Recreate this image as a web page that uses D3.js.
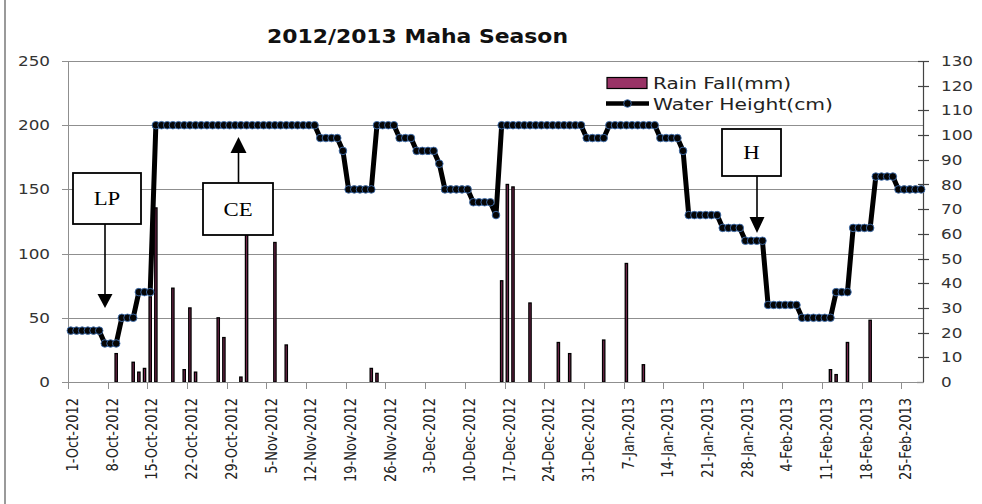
<!DOCTYPE html>
<html>
<head>
<meta charset="utf-8">
<script src="https://cdn.jsdelivr.net/npm/d3@7"></script>
<style>
  body { margin: 0; background: #fff; }
  svg { display: block; }
</style>
</head>
<body>
<svg width="982" height="504"></svg>
<script>
// water height (cm), one value per day, 1-Oct-2012 .. 28-Feb-2013
var waterOct = [40, 40, 40, 40, 40, 40, 30, 30, 30, 50, 50, 50, 70, 70, 70,
    200, 200, 200, 200, 200, 200, 200, 200, 200, 200, 200, 200, 200, 200, 200, 200];
var waterNov = [200, 200, 200, 200, 200, 200, 200, 200, 200, 200, 200, 200, 200,
    190, 190, 190, 190, 180, 150, 150, 150, 150, 150, 200, 200, 200, 200, 190, 190, 190];
var waterDec = [180, 180, 180, 180, 170, 150, 150, 150, 150, 150, 140, 140, 140, 140, 130,
    200, 200, 200, 200, 200, 200, 200, 200, 200, 200, 200, 200, 200, 200, 200, 190];
var waterJan = [190, 190, 190, 200, 200, 200, 200, 200, 200, 200, 200, 200,
    190, 190, 190, 190, 180, 130, 130, 130, 130, 130, 130, 120, 120, 120, 120, 110, 110, 110, 110];
var waterFeb = [60, 60, 60, 60, 60, 60, 50, 50, 50, 50, 50, 50, 70, 70, 70,
    120, 120, 120, 120, 160, 160, 160, 160, 150, 150, 150, 150, 150];

// daily rain fall (mm), only the days with rain
var rainDates = ["2012-10-09", "2012-10-12", "2012-10-13", "2012-10-14", "2012-10-15", "2012-10-16",
    "2012-10-19", "2012-10-21", "2012-10-22", "2012-10-23", "2012-10-27", "2012-10-28", "2012-10-31",
    "2012-11-01", "2012-11-06", "2012-11-08", "2012-11-23", "2012-11-24",
    "2012-12-16", "2012-12-17", "2012-12-18", "2012-12-21", "2012-12-26", "2012-12-28",
    "2013-01-03", "2013-01-07", "2013-01-10",
    "2013-02-12", "2013-02-13", "2013-02-15", "2013-02-19"];
var rainMm = [11.5, 8, 4, 5.5, 34.5, 70.5,
    38, 5, 30, 4, 26, 18, 2,
    62, 56.5, 15, 5.5, 3.5,
    41, 80, 79, 32, 16, 11.5,
    17, 48, 7,
    5, 3, 16, 25];

var xTickLabels = ["1-Oct-2012", "8-Oct-2012", "15-Oct-2012", "22-Oct-2012", "29-Oct-2012",
    "5-Nov-2012", "12-Nov-2012", "19-Nov-2012", "26-Nov-2012", "3-Dec-2012", "10-Dec-2012",
    "17-Dec-2012", "24-Dec-2012", "31-Dec-2012", "7-Jan-2013", "14-Jan-2013", "21-Jan-2013",
    "28-Jan-2013", "4-Feb-2013", "11-Feb-2013", "18-Feb-2013", "25-Feb-2013"];
var leftTicks = [0, 50, 100, 150, 200, 250];
var rightTicks = [0, 10, 20, 30, 40, 50, 60, 70, 80, 90, 100, 110, 120, 130];

var notes = [
    {label: "LP", dir: "down"},
    {label: "CE", dir: "up"},
    {label: "H", dir: "down"}
];

(function() {
    'use strict';

    var svg = d3.select("svg");
    var SX = 1.2;          // the original picture is stretched sideways
    var gridColor = "#8f8f8f";

    var parseTick = d3.utcParse("%d-%b-%Y");
    var parseDay = d3.utcParse("%Y-%m-%d");
    var start = Date.UTC(2012, 9, 1);
    var water = [].concat(waterOct, waterNov, waterDec, waterJan, waterFeb);
    var waterData = water.map(function(v, i) {
        return {date: d3.utcDay.offset(new Date(start), i), value: v};
    });
    var rainData = rainDates.map(function(d, i) {
        return {date: parseDay(d), value: rainMm[i]};
    });

    var x = d3.scaleUtc()
        .domain([new Date(start), new Date(Date.UTC(2013, 2, 1))])
        .range([68, 924]);
    var yL = d3.scaleLinear().domain([0, 250]).range([382, 61]);
    var yR = d3.scaleLinear().domain([0, 130]).range([382, 61]);
    var mid = function(d) { return x(d3.utcHour.offset(d, 12)); };

    // frame edge on the left
    svg.append("line")
        .attr("x1", 5).attr("x2", 5).attr("y1", 0).attr("y2", 504)
        .attr("stroke", "#9a9a9a").attr("stroke-width", 2);

    // title
    svg.append("text")
        .attr("x", 267).attr("y", 43)
        .attr("textLength", 301).attr("lengthAdjust", "spacingAndGlyphs")
        .attr("font-family", "DejaVu Sans").attr("font-weight", "bold")
        .attr("font-size", 19).attr("fill", "#111")
        .text("2012/2013 Maha Season");

    // horizontal grid + left ticks
    var grid = svg.append("g").attr("class", "grid");
    grid.selectAll("line")
        .data(leftTicks)
        .enter().append("line")
            .attr("x1", 62).attr("x2", 924)
            .attr("y1", function(d) { return Math.round(yL(d)) + 0.5; })
            .attr("y2", function(d) { return Math.round(yL(d)) + 0.5; })
            .attr("stroke", gridColor).attr("stroke-width", 1);
    grid.append("line")
        .attr("x1", 68.5).attr("x2", 68.5).attr("y1", 61).attr("y2", 382)
        .attr("stroke", gridColor);

    svg.append("g").selectAll("text")
        .data(leftTicks)
        .enter().append("text")
            .attr("transform", function(d) { return "translate(50," + yL(d) + ") scale(" + SX + ",1)"; })
            .attr("dy", "0.36em")
            .attr("text-anchor", "end")
            .attr("font-family", "DejaVu Sans").attr("font-size", 14).attr("fill", "#333")
            .text(function(d) { return d; });

    // x axis ticks + rotated date labels
    var xTicks = xTickLabels.map(function(s) { return parseTick(s); });
    svg.append("g").selectAll("line")
        .data(xTicks)
        .enter().append("line")
            .attr("x1", function(d) { return Math.round(x(d)) + 0.5; })
            .attr("x2", function(d) { return Math.round(x(d)) + 0.5; })
            .attr("y1", 382).attr("y2", 389)
            .attr("stroke", gridColor);

    svg.append("g").selectAll("text")
        .data(xTicks)
        .enter().append("text")
            .attr("transform", function(d) {
                return "translate(" + (x(d) + 4.5) + ",398) scale(" + SX + ",1) rotate(-90)";
            })
            .attr("dy", "0.36em")
            .attr("text-anchor", "end")
            .attr("font-family", "DejaVu Sans").attr("font-size", 13).attr("fill", "#222")
            .text(function(d, i) { return xTickLabels[i]; });

    // right axis
    var right = svg.append("g").attr("class", "right-axis");
    right.append("line")
        .attr("x1", 923.5).attr("x2", 923.5).attr("y1", 61).attr("y2", 382)
        .attr("stroke", "#444").attr("stroke-width", 1.2);
    right.selectAll("line.tick")
        .data(rightTicks)
        .enter().append("line")
            .attr("class", "tick")
            .attr("x1", function(d) { return d === 0 ? 917 : 918; })
            .attr("x2", function(d) { return d === 0 ? 923.5 : 929; })
            .attr("y1", function(d) { return Math.round(yR(d)) + 0.5; })
            .attr("y2", function(d) { return Math.round(yR(d)) + 0.5; })
            .attr("stroke", "#444").attr("stroke-width", 1.2);
    right.selectAll("text")
        .data(rightTicks)
        .enter().append("text")
            .attr("transform", function(d) { return "translate(941," + yR(d) + ") scale(" + SX + ",1)"; })
            .attr("dy", "0.36em")
            .attr("font-family", "DejaVu Sans").attr("font-size", 14).attr("fill", "#333")
            .text(function(d) { return d; });

    // rain bars (secondary axis); thin, so mostly the black edge shows
    var barW = 2.3;
    svg.append("g").attr("class", "rain")
        .selectAll("rect")
        .data(rainData)
        .enter().append("rect")
            .attr("x", function(d) { return mid(d.date) - barW / 2; })
            .attr("y", function(d) { return yR(d.value); })
            .attr("width", barW)
            .attr("height", function(d) { return yR(0) - yR(d.value); })
            .attr("fill", "#7a2850")
            .attr("stroke", "#000").attr("stroke-width", 1.3);

    // x axis base line
    svg.append("line")
        .attr("x1", 62).attr("x2", 924).attr("y1", 382.5).attr("y2", 382.5)
        .attr("stroke", gridColor);

    // water height line
    var line = d3.line()
        .x(function(d) { return mid(d.date); })
        .y(function(d) { return yL(d.value); });

    svg.append("path")
        .datum(waterData)
        .attr("d", line)
        .attr("fill", "none")
        .attr("stroke", "#000").attr("stroke-width", 5)
        .attr("stroke-linejoin", "round");

    svg.append("g").attr("class", "dots")
        .selectAll("circle")
        .data(waterData)
        .enter().append("circle")
            .attr("cx", function(d) { return mid(d.date); })
            .attr("cy", function(d) { return yL(d.value); })
            .attr("r", 3.8)
            .attr("fill", "#050505")
            .attr("stroke", "#3f6fb0").attr("stroke-width", 0.9);

    // legend
    var legend = svg.append("g").attr("class", "legend");
    legend.append("rect")
        .attr("x", 607).attr("y", 77.5).attr("width", 40).attr("height", 11)
        .attr("fill", "#993366").attr("stroke", "#000").attr("stroke-width", 1.2);
    legend.append("text")
        .attr("x", 653).attr("y", 88.5)
        .attr("textLength", 138).attr("lengthAdjust", "spacingAndGlyphs")
        .attr("font-family", "DejaVu Sans").attr("font-size", 16).attr("fill", "#222")
        .text("Rain Fall(mm)");
    legend.append("line")
        .attr("x1", 606).attr("x2", 649).attr("y1", 103.5).attr("y2", 103.5)
        .attr("stroke", "#000").attr("stroke-width", 4.5);
    legend.append("circle")
        .attr("cx", 627.5).attr("cy", 103.5).attr("r", 3.8)
        .attr("fill", "#050505").attr("stroke", "#3f6fb0").attr("stroke-width", 0.9);
    legend.append("text")
        .attr("x", 653).attr("y", 109.5)
        .attr("textLength", 180).attr("lengthAdjust", "spacingAndGlyphs")
        .attr("font-family", "DejaVu Sans").attr("font-size", 16).attr("fill", "#222")
        .text("Water Height(cm)");

    // annotation boxes with arrows (stage markers)
    var boxes = [
        {x0: 73, y0: 173, x1: 141, y1: 224, ax: 105, tip: 308, base: 294, hw: 7.5},
        {x0: 203, y0: 183, x1: 273, y1: 235, ax: 238.5, tip: 137, base: 153, hw: 8},
        {x0: 722, y0: 129, x1: 781, y1: 176, ax: 757, tip: 233, base: 217, hw: 7.5}
    ];
    var ann = svg.append("g").attr("class", "notes");
    notes.forEach(function(n, i) {
        var b = boxes[i];
        var from = n.dir === "down" ? b.y1 : b.y0;
        ann.append("line")
            .attr("x1", b.ax).attr("x2", b.ax)
            .attr("y1", from).attr("y2", b.base)
            .attr("stroke", "#000").attr("stroke-width", 1.6);
        ann.append("path")
            .attr("d", "M" + (b.ax - b.hw) + "," + b.base + "L" + (b.ax + b.hw) + "," + b.base +
                "L" + b.ax + "," + b.tip + "Z")
            .attr("fill", "#000");
        ann.append("rect")
            .attr("x", b.x0).attr("y", b.y0)
            .attr("width", b.x1 - b.x0).attr("height", b.y1 - b.y0)
            .attr("fill", "#fff").attr("stroke", "#000").attr("stroke-width", 1.8);
        ann.append("text")
            .attr("transform", "translate(" + ((b.x0 + b.x1) / 2) + "," + ((b.y0 + b.y1) / 2) + ") scale(" + SX + ",1)")
            .attr("dy", "0.35em")
            .attr("text-anchor", "middle")
            .attr("font-family", "Liberation Serif").attr("font-size", 19).attr("fill", "#000")
            .text(n.label);
    });
}());
</script>
</body>
</html>
